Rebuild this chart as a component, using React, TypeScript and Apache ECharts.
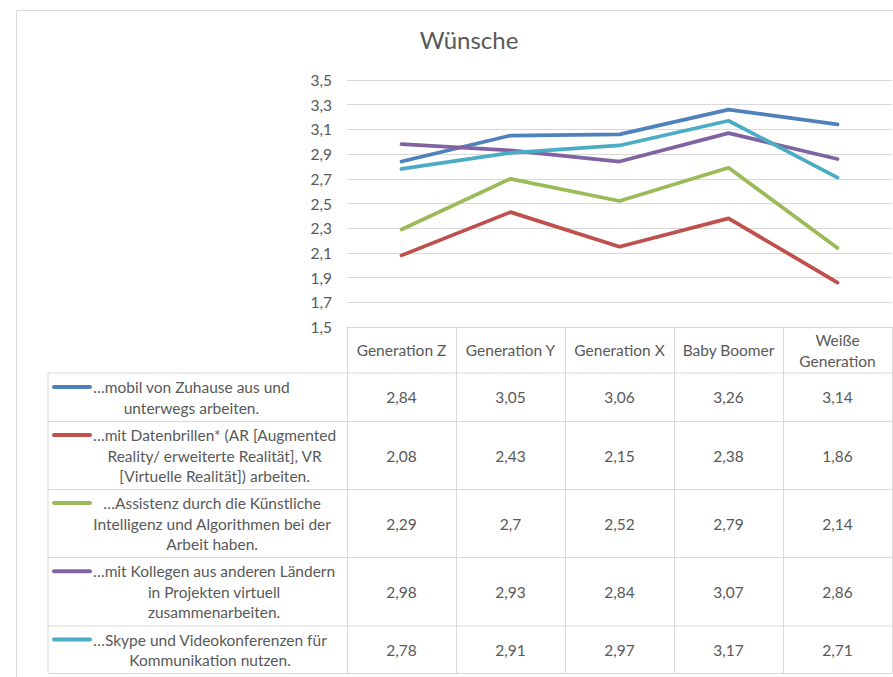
import React, { useEffect, useRef } from 'react';
import * as echarts from 'echarts';

const categories = ['Generation Z', 'Generation Y', 'Generation X', 'Baby Boomer', 'Weiße\nGeneration'];
const seriesLabels = [
  '…mobil von Zuhause aus und\nunterwegs arbeiten.',
  '…mit Datenbrillen* (AR [Augmented\nReality/ erweiterte Realität], VR\n[Virtuelle Realität]) arbeiten.',
  '…Assistenz durch die Künstliche\nIntelligenz und Algorithmen bei der\nArbeit haben.',
  '…mit Kollegen aus anderen Ländern\nin Projekten virtuell\nzusammenarbeiten.',
  '…Skype und Videokonferenzen für\nKommunikation nutzen.',
];
const mobil = [2.84, 3.05, 3.06, 3.26, 3.14];
const datenbrillen = [2.08, 2.43, 2.15, 2.38, 1.86];
const assistenz = [2.29, 2.7, 2.52, 2.79, 2.14];
const kollegen = [2.98, 2.93, 2.84, 3.07, 2.86];
const skype = [2.78, 2.91, 2.97, 3.17, 2.71];
const seriesValues = [mobil, datenbrillen, assistenz, kollegen, skype];
const seriesColors = ['#4F81BD', '#C0504D', '#9BBB59', '#8064A2', '#4BACC6'];
const yMin = 1.5;
const yMax = 3.5;

const FONT = 'Lato, "Open Sans", sans-serif';
const FS = 15.5;
const TXT = '#595959';
const GRID = '#D9D9D9';
// layout
const rowLines = [373, 421.5, 489.5, 557.5, 626, 673.5];
const tableLeft = 48;
const tableRight = 892;

function fmt(v: number) {
  return String(v).replace('.', ',');
}

export default function App() {
  const ref = useRef<HTMLDivElement>(null);
  useEffect(() => {
    if (!ref.current) return;
    const chart = echarts.init(ref.current, undefined, { renderer: 'svg' });
    chart.setOption({
      animation: false,
      title: {
        text: 'Wünsche',
        left: 464,
        top: 22,
        textAlign: 'center',
        textStyle: { fontFamily: FONT, fontSize: 24, fontWeight: 'normal', color: TXT },
      },
      grid: { left: 347, right: 1, top: 80, bottom: 350, containLabel: false },
      xAxis: {
        type: 'category',
        data: categories,
        boundaryGap: true,
        axisLine: { show: true, lineStyle: { color: GRID, width: 1 } },
        axisTick: { show: true, length: 346.5, inside: false, lineStyle: { color: GRID, width: 1 } },
        axisLabel: {
          margin: 23,
          verticalAlign: 'middle',
          lineHeight: 21,
          fontFamily: FONT,
          fontSize: FS,
          color: TXT,
          interval: 0,
        },
        splitLine: { show: false },
      },
      yAxis: {
        type: 'value',
        min: yMin,
        max: yMax,
        interval: 0.1,
        axisLine: { show: false },
        axisTick: { show: false },
        axisLabel: {
          margin: 15,
          fontFamily: FONT,
          fontSize: FS,
          color: TXT,
          showMinLabel: true,
          showMaxLabel: true,
          formatter: (v: number) => (Math.round(v * 10) % 2 === 1 ? v.toFixed(1).replace('.', ',') : ''),
        },
        splitLine: { show: true, lineStyle: { color: [GRID, 'rgba(0,0,0,0)'], width: 1 } },
      },
      series: seriesValues.map((vals, i) => ({
        type: 'line',
        name: seriesLabels[i].replace(/\n/g, ' '),
        data: vals,
        symbol: 'none',
        lineStyle: { color: seriesColors[i], width: 3.75, cap: 'round', join: 'round' },
        itemStyle: { color: seriesColors[i] },
      })),
    });

    const canvas = document.createElement('canvas');
    const ctx = canvas.getContext('2d')!;
    ctx.font = FS + 'px ' + FONT;

    const graphics: any[] = [];
    // outer frame
    graphics.push({
      type: 'rect',
      shape: { x: 16.5, y: 10.5, width: 900, height: 700 },
      style: { fill: 'none', stroke: GRID, lineWidth: 1 },
      silent: true,
    });
    // table horizontal lines
    rowLines.forEach((y) => {
      graphics.push({
        type: 'line',
        shape: { x1: tableLeft, y1: y, x2: tableRight, y2: y },
        style: { stroke: GRID, lineWidth: 1 },
        silent: true,
      });
    });
    graphics.push({
      type: 'line',
      shape: { x1: tableLeft, y1: rowLines[0], x2: tableLeft, y2: rowLines[rowLines.length - 1] },
      style: { stroke: GRID, lineWidth: 1 },
      silent: true,
    });
    seriesLabels.forEach((label, i) => {
      const top = rowLines[i];
      const bottom = rowLines[i + 1];
      const lines = label.split('\n');
      const nLines = lines.length;
      const lh = 20.5;
      const mid = (top + bottom) / 2;
      const firstY = mid - ((nLines - 1) * lh) / 2;
      const maxW = Math.max(...lines.map((l) => ctx.measureText(l).width));
      let cx = 93 + maxW / 2;
      if (cx + maxW / 2 > 344) cx = 344 - maxW / 2;
      graphics.push({
        type: 'line',
        shape: { x1: 54, y1: firstY, x2: 90, y2: firstY },
        style: { stroke: seriesColors[i], lineWidth: 4, lineCap: 'round' },
        silent: true,
      });
      graphics.push({
        type: 'text',
        x: cx,
        y: mid,
        style: {
          text: label,
          fontFamily: FONT,
          fontSize: FS,
          fill: TXT,
          align: 'center',
          verticalAlign: 'middle',
          lineHeight: lh,
        },
        silent: true,
      });
      seriesValues[i].forEach((v, j) => {
        const px = chart.convertToPixel({ xAxisIndex: 0 }, j) as number;
        graphics.push({
          type: 'text',
          x: px,
          y: mid,
          style: {
            text: fmt(v),
            fontFamily: FONT,
            fontSize: FS,
            fill: TXT,
            align: 'center',
            verticalAlign: 'middle',
          },
          silent: true,
        });
      });
    });
    chart.setOption({ graphic: graphics });

    return () => chart.dispose();
  }, []);
  return (
    <div
      ref={ref}
      style={{ position: 'fixed', left: 0, top: 0, width: 893, height: 677, background: '#fff' }}
    />
  );
}
